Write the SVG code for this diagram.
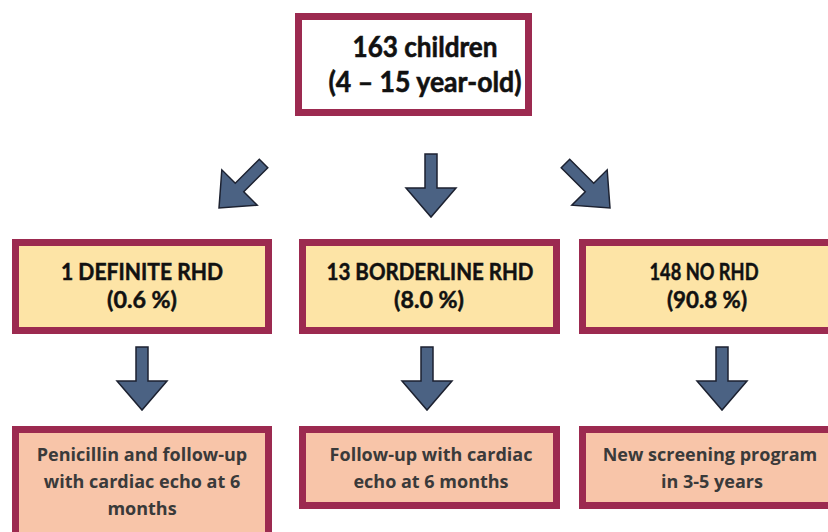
<svg xmlns="http://www.w3.org/2000/svg" width="828" height="532" viewBox="0 0 828 532">
<style>
.box{stroke:#9c2a50;stroke-width:7}
.top{fill:#ffffff}
.mid{fill:#fde4a6}
.bot{fill:#f8c5a9}
.arr{fill:#4b6283;stroke:#1c2130;stroke-width:1.5;stroke-linejoin:miter}
.t1{font-family:Lato,"Liberation Sans",sans-serif;font-weight:bold;font-size:29px;fill:#111;stroke:#111;stroke-width:0.6;text-anchor:middle}
.t2{font-family:Lato,"Liberation Sans",sans-serif;font-weight:bold;font-size:23px;fill:#111;stroke:#111;stroke-width:0.5;text-anchor:middle}
.t3{font-family:"Open Sans",sans-serif;font-weight:bold;font-size:18px;fill:#3a3a3a;text-anchor:middle}
</style>
<defs>
<path id="arrow" d="M-6,-63 L6,-63 L6,-29 L25,-29 L0,0 L-25,-29 L-6,-29 Z"/>
</defs>
<rect width="828" height="532" fill="#ffffff"/>
<g id="connectors">
<use href="#arrow" class="arr" transform="translate(219,208) rotate(45)"/>
<use href="#arrow" class="arr" transform="translate(431,217)"/>
<use href="#arrow" class="arr" transform="translate(610,208) rotate(-45)"/>
<use href="#arrow" class="arr" transform="translate(142,410)"/>
<use href="#arrow" class="arr" transform="translate(427,410)"/>
<use href="#arrow" class="arr" transform="translate(722,410)"/>
</g>
<g id="n0">
<rect class="box top" x="298.5" y="16.5" width="230" height="96"/>
<text class="t1" x="425" y="57" textLength="145" lengthAdjust="spacingAndGlyphs">163 children</text>
<text class="t1" x="425" y="92" textLength="193" lengthAdjust="spacingAndGlyphs">(4 – 15 year-old)</text>
</g>
<g id="n1">
<rect class="box mid" x="15.5" y="242.5" width="253" height="88"/>
<text class="t2" x="142" y="280" textLength="162" lengthAdjust="spacingAndGlyphs">1 DEFINITE RHD</text>
<text class="t2" x="142" y="308" textLength="70" lengthAdjust="spacingAndGlyphs">(0.6 %)</text>
</g>
<g id="n2">
<rect class="box mid" x="302.5" y="242.5" width="254" height="88"/>
<text class="t2" x="430" y="280" textLength="207" lengthAdjust="spacingAndGlyphs">13 BORDERLINE RHD</text>
<text class="t2" x="429" y="308" textLength="70" lengthAdjust="spacingAndGlyphs">(8.0 %)</text>
</g>
<g id="n3">
<rect class="box mid" x="582.5" y="242.5" width="254" height="88"/>
<text class="t2" x="704" y="280" textLength="109" lengthAdjust="spacingAndGlyphs">148 NO RHD</text>
<text class="t2" x="707" y="308" textLength="80" lengthAdjust="spacingAndGlyphs">(90.8 %)</text>
</g>
<g id="n4">
<rect class="box bot" x="15.5" y="429.5" width="253" height="120"/>
<text class="t3" x="142" y="461">Penicillin and follow-up</text>
<text class="t3" x="142" y="488">with cardiac echo at 6</text>
<text class="t3" x="142" y="515">months</text>
</g>
<g id="n5">
<rect class="box bot" x="302.5" y="429.5" width="254" height="76"/>
<text class="t3" x="431" y="461">Follow-up with cardiac</text>
<text class="t3" x="431" y="488">echo at 6 months</text>
</g>
<g id="n6">
<rect class="box bot" x="582.5" y="429.5" width="254" height="76"/>
<text class="t3" x="710" y="461">New screening program</text>
<text class="t3" x="712" y="488">in 3-5 years</text>
</g>
</svg>
